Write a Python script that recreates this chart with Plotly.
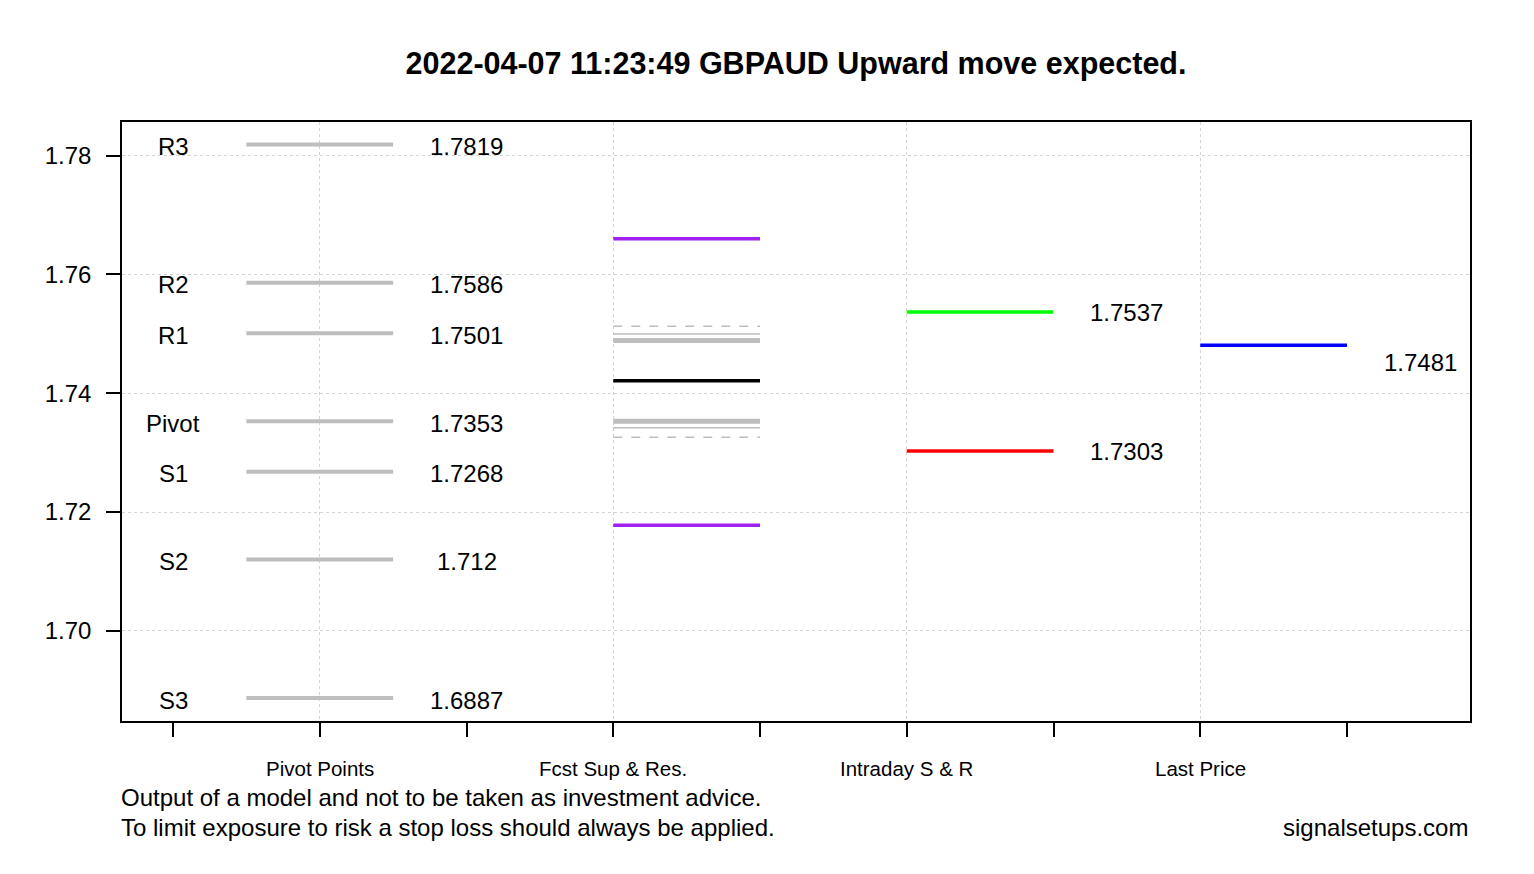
import plotly.graph_objects as go

# pivot point levels
pivot_names = ["R3", "R2", "R1", "Pivot", "S1", "S2", "S3"]
pivot_values = [1.7819, 1.7586, 1.7501, 1.7353, 1.7268, 1.712, 1.6887]

# forecast support / resistance levels
fcst_outer = [1.7660, 1.7178]
fcst_mid = [1.7421]
fcst_thick = [1.7489, 1.7353]
fcst_thin = [1.7500, 1.7342]
fcst_dashed = [1.7513, 1.7326]

# intraday support & resistance
intraday_res = 1.7537
intraday_sup = 1.7303

last_price = 1.7481

category_labels = ["Pivot Points", "Fcst Sup & Res.", "Intraday S & R", "Last Price"]
category_pos = [1, 3, 5, 7]
y_ticks = [1.70, 1.72, 1.74, 1.76, 1.78]

title_text = "2022-04-07 11:23:49 GBPAUD Upward move expected."
FONT = "Liberation Sans, Arial, sans-serif"
GRAY = "#BEBEBE"

fig = go.Figure()


def hseg(x0, x1, y, color, width, dash="solid"):
    fig.add_trace(go.Scatter(
        x=[x0, x1], y=[y, y], mode="lines",
        line=dict(color=color, width=width, dash=dash),
        hoverinfo="skip", showlegend=False
    ))


# Pivot points
for v in pivot_values:
    hseg(0.5, 1.5, v, GRAY, 4)

# Forecast S&R
for v in fcst_dashed:
    hseg(3, 4, v, GRAY, 1.5, "dash")
for v in fcst_thin:
    hseg(3, 4, v, GRAY, 1.5)
for v in fcst_thick:
    hseg(3, 4, v, GRAY, 5)
for v in fcst_mid:
    hseg(3, 4, v, "black", 3.5)
for v in fcst_outer:
    hseg(3, 4, v, "#A020F0", 3.5)

# Intraday
hseg(5, 6, intraday_res, "#00FF00", 3.5)
hseg(5, 6, intraday_sup, "#FF0000", 3.5)

# Last price
hseg(7, 8, last_price, "#0000FF", 3.5)

txt = dict(size=24, family=FONT, color="black")
annotations = []
for name, v in zip(pivot_names, pivot_values):
    annotations.append(dict(x=0, y=v, text=name, showarrow=False, yshift=-2, font=txt))
    annotations.append(dict(x=2, y=v, text=f"{v:g}", showarrow=False, yshift=-2, font=txt))
for v in [intraday_res, intraday_sup]:
    annotations.append(dict(x=6.5, y=v, text=f"{v:g}", showarrow=False, yshift=-1, font=txt))
annotations.append(dict(x=8.5, y=last_price, text=f"{last_price:g}", showarrow=False,
                        yshift=-17, font=txt))

for lab, pos in zip(category_labels, category_pos):
    annotations.append(dict(x=pos, y=-0.0785, xref="x", yref="paper", text=lab,
                            showarrow=False, yanchor="middle",
                            font=dict(size=20.5, family=FONT, color="black")))

annotations += [
    dict(x=-0.002, y=-0.1269, xref="paper", yref="paper", xanchor="left", yanchor="middle",
         text="Output of a model and not to be taken as investment advice.",
         showarrow=False, font=txt),
    dict(x=-0.002, y=-0.1786, xref="paper", yref="paper", xanchor="left", yanchor="middle",
         text="To limit exposure to risk a stop loss should always be applied.",
         showarrow=False, font=txt),
    dict(x=1, y=-0.1786, xref="paper", yref="paper", xanchor="right", yanchor="middle",
         text="signalsetups.com", showarrow=False, font=txt),
]

# page body adds an 8px margin, so the figure is made 8px smaller and shifted
fig.update_layout(
    width=1526, height=866,
    margin=dict(l=114, r=64, t=114, b=153),
    paper_bgcolor="white", plot_bgcolor="white",
    showlegend=False,
    title=dict(text=f"<b>{title_text}</b>", x=0.5, xref="paper", xanchor="center",
               y=1 - 55 / 866, yanchor="middle", yref="container",
               font=dict(size=30.5, family=FONT, color="black")),
    annotations=annotations,
    xaxis=dict(
        range=[-0.3475, 8.838], tickvals=category_pos, ticktext=["", "", "", ""],
        ticks="outside", ticklen=14, tickcolor="black", tickwidth=1.5,
        minor=dict(tick0=0, dtick=2, ticks="outside", ticklen=14,
                   tickcolor="black", tickwidth=1.5, showgrid=False),
        showgrid=True, gridcolor="#D3D3D3", griddash="dot", gridwidth=1,
        zeroline=False, showline=True, linecolor="black", linewidth=1.5, mirror=True,
    ),
    yaxis=dict(
        range=[1.68483, 1.78567], tickvals=y_ticks, ticktext=[f"{t:.2f}" for t in y_ticks],
        ticks="outside", ticklen=14, tickcolor="black", tickwidth=1.5,
        ticklabelstandoff=10,
        tickfont=txt,
        showgrid=True, gridcolor="#D3D3D3", griddash="dot", gridwidth=1,
        zeroline=False, showline=True, linecolor="black", linewidth=1.5, mirror=True,
    ),
)

fig.write_html("out.html")
